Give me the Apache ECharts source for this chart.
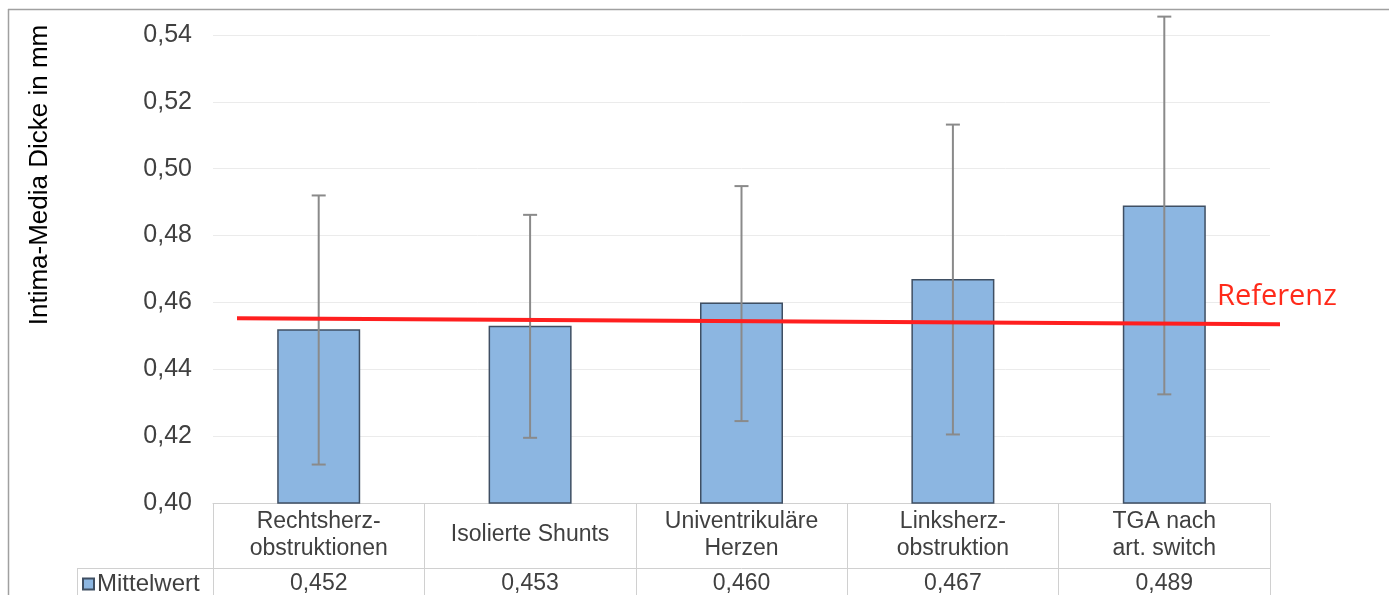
<!DOCTYPE html>
<html><head><meta charset="utf-8">
<script src="https://cdn.jsdelivr.net/npm/echarts@6/dist/echarts.min.js"></script>
<style>html,body{margin:0;padding:0;background:#fff}#c{width:1389px;height:595px}</style>
</head><body><div id="c"></div>
<script>
const categories = ['Rechtsherz-\nobstruktionen', 'Isolierte Shunts', 'Univentrikuläre\nHerzen', 'Linksherz-\nobstruktion', 'TGA nach\nart. switch'];
const meanValues = [0.452, 0.453, 0.460, 0.467, 0.489];
const errLow = [0.4115, 0.4195, 0.4245, 0.4205, 0.4325];
const errHigh = [0.4920, 0.4862, 0.4948, 0.5132, 0.5455];
const refLine = [[0.0225, 0.4553], [1.0, 0.4535]];
const yTicks = { min: 0.40, max: 0.54, interval: 0.02 };

const chart = echarts.init(document.getElementById('c'));
const font = 'Liberation Sans, Arial, sans-serif';
const gray = '#404040';
chart.setOption({
  animation: false,
  title: { text: 'Referenz', left: 1217, top: 282, padding: 0,
    textStyle: { color: '#ff2a1a', fontSize: 29, fontWeight: 'normal', fontFamily: 'Open Sans, sans-serif' } },
  legend: { left: 82, top: 572, padding: 0, itemWidth: 11, itemHeight: 11, itemGap: 4, icon: 'rect',
    data: ['Mittelwert'], textStyle: { fontSize: 24, color: gray, fontFamily: font, padding: [0,0,0,-2] } },
  grid: [
    { left: 213, right: 119, top: 35, bottom: 92, outerBoundsMode: 'none', containLabel: false },
    { left: 213, right: 109, top: 35, bottom: 92, outerBoundsMode: 'none', containLabel: false }
  ],
  xAxis: [
    { type: 'category', data: categories, position: 'bottom', gridIndex: 0,
      axisLine: { show: true, lineStyle: { color: '#d0d0d0', width: 1 } },
      axisTick: { show: true, length: 92, lineStyle: { color: '#d0d0d0' } },
      axisLabel: { fontSize: 23, lineHeight: 27, color: gray, fontFamily: font, margin: 32,
        verticalAlign: 'middle', interval: 0 } },
    { type: 'category', data: meanValues.map(v => v.toFixed(3).replace('.', ',')), position: 'bottom', offset: 65, gridIndex: 0,
      axisLine: { show: true, lineStyle: { color: '#d0d0d0', width: 1 } },
      axisTick: { show: false },
      axisLabel: { fontSize: 23, color: gray, fontFamily: font, margin: 16, verticalAlign: 'middle', interval: 0 } },
    { type: 'value', min: 0, max: 1, show: false, gridIndex: 1 }
  ],
  yAxis: [
    { type: 'value', min: yTicks.min, max: yTicks.max, interval: yTicks.interval, gridIndex: 0,
      axisLine: { show: false }, axisTick: { show: false },
      axisLabel: { fontSize: 25, color: gray, fontFamily: font, margin: 21,
        formatter: v => v.toFixed(2).replace('.', ',') },
      splitLine: { lineStyle: { color: '#ebebeb', width: 1 } } },
    { type: 'value', min: yTicks.min, max: yTicks.max, gridIndex: 1, show: false }
  ],
  series: [
    { name: 'Mittelwert', type: 'bar', data: meanValues, barWidth: 83, xAxisIndex: 0, yAxisIndex: 0,
      itemStyle: { color: '#8cb6e1', borderColor: '#3f4f63', borderWidth: 1.5 } },
    { type: 'custom', xAxisIndex: 0, yAxisIndex: 0, clip: false, z: 5,
      data: meanValues.map((v, i) => [i, errLow[i], errHigh[i]]),
      renderItem: (params, api) => {
        const lo = api.coord([api.value(0), api.value(1)]);
        const hi = api.coord([api.value(0), api.value(2)]);
        const w = 7;
        const st = { stroke: '#8a8a8a', lineWidth: 2 };
        return { type: 'group', children: [
          { type: 'line', shape: { x1: hi[0], y1: hi[1], x2: lo[0], y2: lo[1] }, style: st },
          { type: 'line', shape: { x1: hi[0]-w, y1: hi[1], x2: hi[0]+w, y2: hi[1] }, style: st },
          { type: 'line', shape: { x1: lo[0]-w, y1: lo[1], x2: lo[0]+w, y2: lo[1] }, style: st }
        ]};
      } },
    { type: 'line', xAxisIndex: 2, yAxisIndex: 1, data: refLine, symbol: 'none', clip: false, z: 6,
      lineStyle: { color: '#ff1f1f', width: 4 } }
  ],
  graphic: [
    { type: 'line', shape: { x1: 8, y1: 9.5, x2: 1389, y2: 9.5 }, style: { stroke: '#a0a0a0', lineWidth: 1.5 } },
    { type: 'line', shape: { x1: 8.5, y1: 9, x2: 8.5, y2: 595 }, style: { stroke: '#a0a0a0', lineWidth: 1.5 } },
    { type: 'line', shape: { x1: 77, y1: 568.5, x2: 213, y2: 568.5 }, style: { stroke: '#d0d0d0', lineWidth: 1 } },
    { type: 'line', shape: { x1: 77.5, y1: 568, x2: 77.5, y2: 595 }, style: { stroke: '#d0d0d0', lineWidth: 1 } },
    { type: 'text', x: 40, y: 175, rotation: Math.PI / 2,
      style: { text: 'Intima-Media Dicke in mm', align: 'center', verticalAlign: 'middle',
        font: '26px Liberation Sans, Arial, sans-serif', fill: '#000' } }
  ]
});
</script></body></html>
